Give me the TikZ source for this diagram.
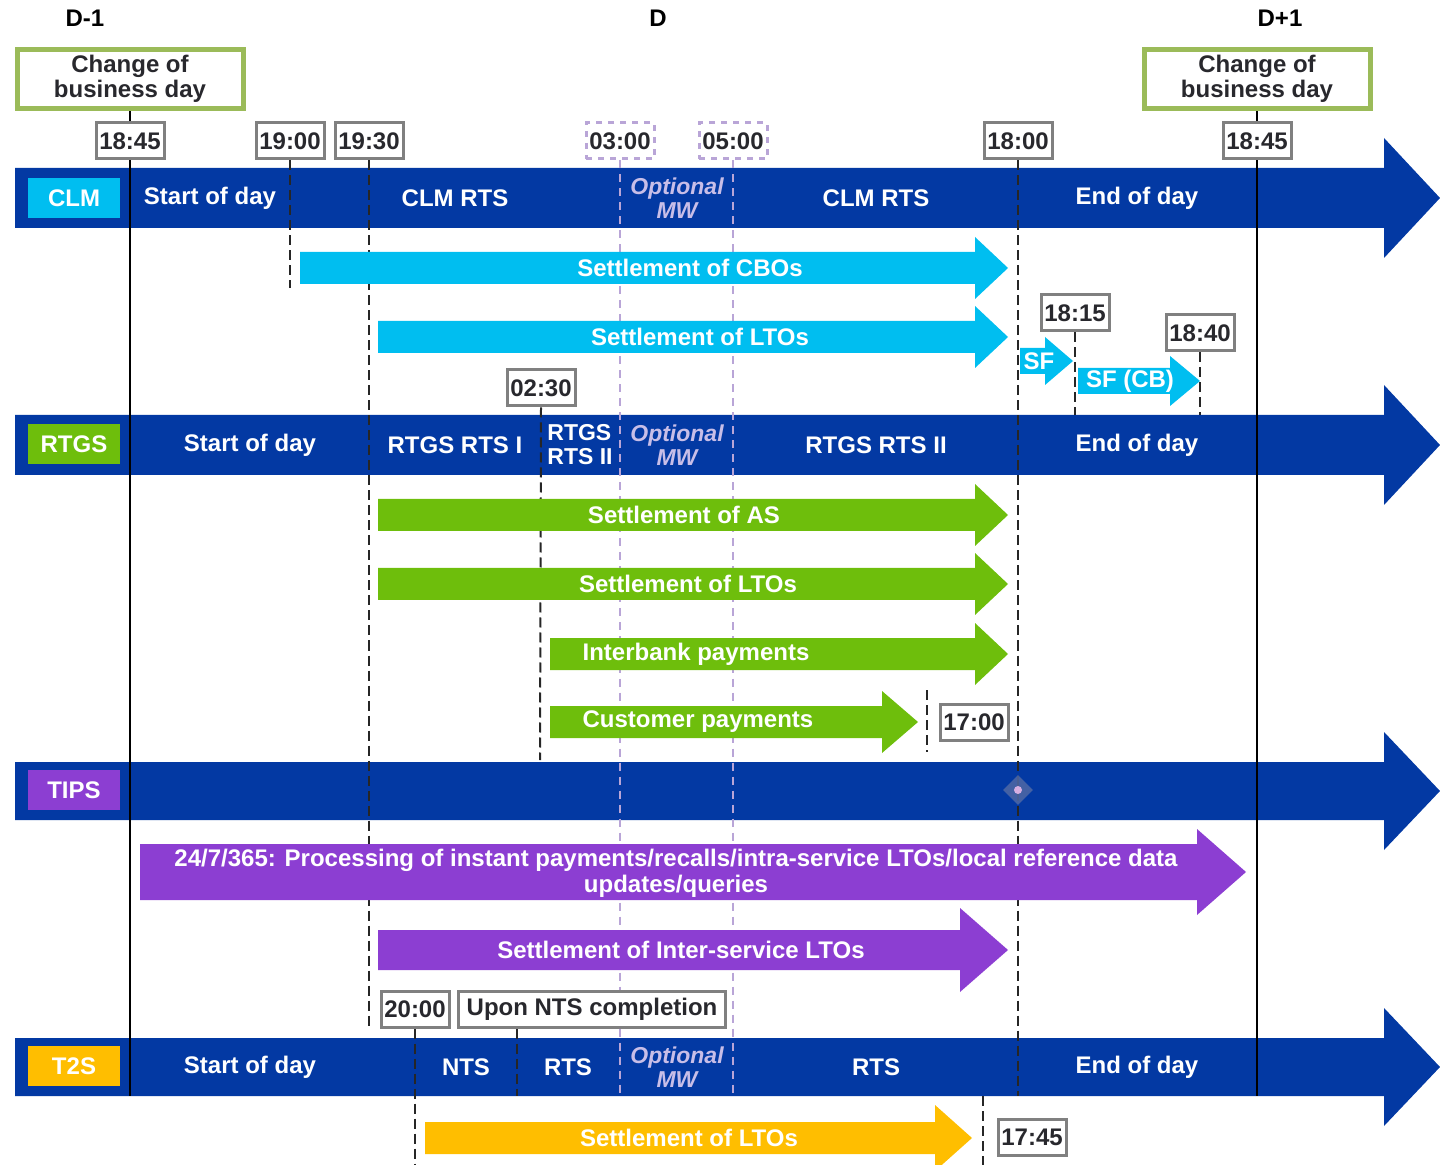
\documentclass[tikz,border=0pt]{standalone}
\usepackage{fontspec}
\setmainfont{Liberation Sans}
\usepackage{tikz}
\usetikzlibrary{calc,positioning,shapes.geometric}

\definecolor{bandblue}{RGB}{3,57,163}
\definecolor{clmcyan}{RGB}{0,190,240}
\definecolor{rtgsgreen}{RGB}{110,190,12}
\definecolor{tipspurple}{RGB}{140,62,210}
\definecolor{tsyellow}{RGB}{255,190,0}
\definecolor{cobdgreen}{RGB}{155,187,89}
\definecolor{timegray}{RGB}{128,128,128}
\definecolor{mwpurple}{RGB}{185,165,215}
\definecolor{mwtext}{RGB}{200,190,232}
\definecolor{darktext}{RGB}{40,40,45}
\definecolor{markblue}{RGB}{80,105,165}
\definecolor{markpink}{RGB}{215,175,225}

\pgfdeclarelayer{background}
\pgfsetlayers{background,main}

% fat arrow: colour, x start, x head, x tip, y centre, half body, half head
\newcommand{\fatarrow}[7]{\fill[#1] (#2,{#5-#6}) -- (#3,{#5-#6}) -- (#3,{#5-#7}) -- (#4,#5) -- (#3,{#5+#7}) -- (#3,{#5+#6}) -- (#2,{#5+#6}) -- cycle;}
\newcommand{\bandfont}{\bfseries\fontsize{12}{14}\selectfont}

\begin{document}
\begin{tikzpicture}[x=0.5pt,y=-0.5pt]
    \tikzstyle{time}=[draw=timegray, line width=1.5pt, fill=white, minimum width=34pt, minimum height=18pt, inner sep=1.5pt, text=darktext, font=\bandfont]
    \tikzstyle{mw time}=[time, draw=mwpurple, dashed]
    \tikzstyle{cobd}=[draw=cobdgreen, line width=2.5pt, fill=white, minimum width=113pt, minimum height=29.5pt, inner sep=0pt, align=center, text=darktext, font=\bfseries\fontsize{12}{12.5}\selectfont]
    \tikzstyle{svc}=[minimum width=46pt, minimum height=20pt, inner sep=0pt, text=white, font=\bandfont]
    \tikzstyle{band text}=[text=white, font=\bandfont, align=left]
    \tikzstyle{opt mw}=[text=mwtext, font=\bfseries\itshape\fontsize{11.5}{12}\selectfont, align=center]
    \tikzstyle{arr text}=[text=white, font=\bandfont, align=center]
    \tikzstyle{vsolid}=[black, line width=1pt]
    \tikzstyle{vdash}=[black!85, line width=1pt, dash pattern=on 5pt off 2.5pt]
    \tikzstyle{vmw}=[mwpurple, line width=1.2pt, dash pattern=on 4pt off 3pt]

\useasboundingbox (0,0) rectangle (1440,1165);

% days and change of business day
\node[font=\bandfont] (dm1) at (85,18) {D-1};
\node[font=\bandfont] (d0) at (658,18) {D};
\node[font=\bandfont] (dp1) at (1280,18) {D+1};
\node[cobd] (cobdl) at (130,79) {Change of\\business day};
\node[cobd] (cobdr) at (1257,79) {Change of\\business day};

% times
\node[time] (t1845a) at (130,141) {18:45};
\node[time] (t1900) at (290,141) {19:00};
\node[time] (t1930) at (369,141) {19:30};
\node[mw time] (t0300) at (620,141) {03:00};
\node[mw time] (t0500) at (733,141) {05:00};
\node[time] (t1800) at (1018,141) {18:00};
\node[time] (t1845b) at (1257,141) {18:45};
\node[time] (t1815) at (1075,313) {18:15};
\node[time] (t1840) at (1200,333) {18:40};
\node[time] (t0230) at (541,388) {02:30};
\node[time] (t1700) at (974,722) {17:00};
\node[time] (t2000) at (415,1009) {20:00};
\node[time, inner xsep=4pt] (tnts) at (592,1009) {Upon NTS completion};
\node[time] (t1745) at (1032,1137) {17:45};

% time lines
\coordinate (e1845a) at (130,1096);
\coordinate (e1845b) at (1257,1096);
\coordinate (e1900) at (290,288);
\coordinate (e1930) at (369,1030);
\coordinate (e0300) at (620,1096);
\coordinate (e0500) at (733,1096);
\coordinate (e1800) at (1018,1096);
\coordinate (e0230) at (540,760);
\coordinate (e1815) at (1075,415);
\coordinate (e1840) at (1200,415);
\coordinate (s1700) at (927,690);
\coordinate (e1700) at (927,752);
\coordinate (e2000) at (415,1165);
\coordinate (e2000b) at (517,1096);
\coordinate (s1745) at (983,1096);
\coordinate (e1745) at (983,1165);

\begin{pgfonlayer}{background}
% service bands
\fatarrow{bandblue}{15}{1384}{1440}{198}{30}{60}
\fatarrow{bandblue}{15}{1384}{1440}{445}{30}{60}
\fatarrow{bandblue}{15}{1384}{1440}{791}{29}{59}
\fatarrow{bandblue}{15}{1384}{1440}{1067}{29}{59}
\draw[vsolid] (cobdl.south) -- (t1845a.north);
\draw[vsolid] (cobdr.south) -- (t1845b.north);
\draw[vsolid] (t1845a.south) -- (e1845a);
\draw[vsolid] (t1845b.south) -- (e1845b);
\draw[vdash] (t1900.south) -- (e1900);
\draw[vdash] (t1930.south) -- (e1930);
\draw[vmw] (t0300.south) -- (e0300);
\draw[vmw] (t0500.south) -- (e0500);
\draw[vdash] (t1800.south) -- (e1800);
\draw[vdash] (t0230.south) -- (e0230);
\draw[vdash] (t1815.south) -- (e1815);
\draw[vdash] (t1840.south) -- (e1840);
\draw[vdash] (s1700) -- (e1700);
\draw[vdash] (t2000.south) -- (e2000);
\draw[vdash] (tnts.south -| e2000b) -- (e2000b);
\draw[vdash] (s1745) -- (e1745);
\end{pgfonlayer}

% CLM
\node[svc, fill=clmcyan] (clm) at (74,198) {CLM};
\node[band text] (clmsod) at (210,198) {Start of day};
\node[band text] (clmrts1) at (455,198) {CLM RTS};
\node[opt mw] (clmmw) at (677,198) {Optional\\MW};
\node[band text] (clmrts2) at (876,198) {CLM RTS};
\node[band text] (clmeod) at (1137,198) {End of day};
\fatarrow{clmcyan}{300}{975}{1008}{268}{16}{31}
\node[arr text] (cbo) at (690,268) {Settlement of CBOs};
\fatarrow{clmcyan}{378}{975}{1008}{337}{16}{31}
\node[arr text] (clmlto) at (700,337) {Settlement of LTOs};
\fatarrow{clmcyan}{1020}{1045}{1073}{361}{13}{24}
\node[arr text] (sf) at (1039,361) {SF};
\fatarrow{clmcyan}{1078}{1170}{1200}{381}{13}{25}
\node[arr text] (sfcb) at (1130,381) {SF (CB)};

% RTGS
\node[svc, fill=rtgsgreen] (rtgs) at (74,444) {RTGS};
\node[band text] (rtgssod) at (250,445) {Start of day};
\node[band text] (rts1) at (455,445) {RTGS RTS I};
\node[band text, inner sep=0pt, font=\bfseries\fontsize{11.5}{12}\selectfont] (rts2a) at (580,445) {RTGS\\RTS II};
\node[opt mw] (rtgsmw) at (677,445) {Optional\\MW};
\node[band text] (rts2b) at (876,445) {RTGS RTS II};
\node[band text] (rtgseod) at (1137,445) {End of day};
\fatarrow{rtgsgreen}{378}{975}{1008}{515}{16}{31}
\node[arr text] (as) at (684,515) {Settlement of AS};
\fatarrow{rtgsgreen}{378}{975}{1008}{584}{16}{31}
\node[arr text] (rtgslto) at (688,584) {Settlement of LTOs};
\fatarrow{rtgsgreen}{550}{975}{1008}{654}{16}{31}
\node[arr text] (ib) at (696,654) {Interbank payments};
\fatarrow{rtgsgreen}{550}{882}{918}{722}{16}{31}
\node[arr text] (cust) at (698,722) {Customer payments};

% TIPS
\node[svc, fill=tipspurple] (tips) at (74,790) {TIPS};
\node[diamond, fill=markblue, opacity=0.85, minimum size=15pt, inner sep=0pt] (tipsmark) at (1018,790) {};
\fill[markpink] (tipsmark.center) circle (4);
\fatarrow{tipspurple}{140}{1197}{1246}{872}{28}{43}
\node[arr text, font=\bfseries\fontsize{12}{13}\selectfont] (inst) at (676,873) {24/7/365: Processing of instant payments/recalls/intra-service LTOs/local reference data\\updates/queries};
\fatarrow{tipspurple}{378}{960}{1008}{950}{20}{42}
\node[arr text] (islto) at (681,950) {Settlement of Inter-service LTOs};

% T2S
\node[svc, fill=tsyellow] (tts) at (74,1066) {T2S};
\node[band text] (ttssod) at (250,1067) {Start of day};
\node[band text] (nts) at (466,1067) {NTS};
\node[band text] (ttsrts1) at (568,1067) {RTS};
\node[opt mw] (ttsmw) at (677,1067) {Optional\\MW};
\node[band text] (ttsrts2) at (876,1067) {RTS};
\node[band text] (ttseod) at (1137,1067) {End of day};
\fatarrow{tsyellow}{425}{935}{972}{1138}{16}{33}
\node[arr text] (ttslto) at (689,1138) {Settlement of LTOs};
\end{tikzpicture}
\end{document}
